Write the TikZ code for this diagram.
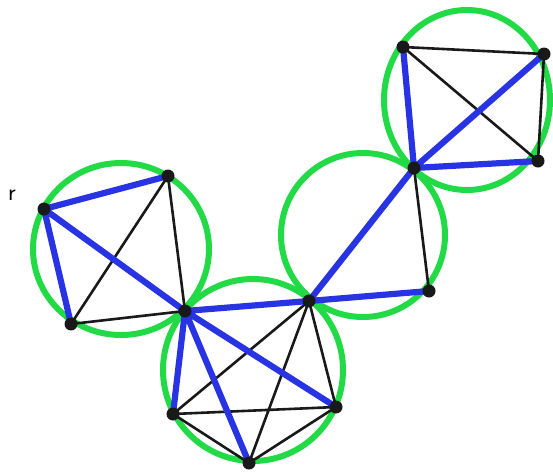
\documentclass[tikz,border=0pt]{standalone}
\usepackage{tikz}
\definecolor{ringgreen}{RGB}{34,218,70}
\definecolor{treeblue}{RGB}{40,52,228}
\tikzset{
  ring/.style={ringgreen,line width=6pt},
  edge/.style={black!90,line width=2.6pt},
  tree/.style={treeblue,line width=6.2pt},
}

\begin{document}
\begin{tikzpicture}[x=1pt,y=-1pt]
  \useasboundingbox (0,0) rectangle (553,472);
  % vertices
  \coordinate (r) at (44,209);
  \coordinate (a) at (168,176);
  \coordinate (b) at (71,324);
  \coordinate (c) at (185,311);
  \coordinate (d) at (309,301);
  \coordinate (e) at (173,414);
  \coordinate (f) at (249,463);
  \coordinate (g) at (336,407);
  \coordinate (h) at (429,291);
  \coordinate (i) at (414,168);
  \coordinate (j) at (403,47);
  \coordinate (k) at (544,54);
  \coordinate (l) at (538,161);
  % blocks
  \draw[ring] (121,249) ellipse (88pt and 86pt);
  \draw[ring] (253,370) ellipse (90pt and 91pt);
  \draw[ring] (363,235) ellipse (82pt and 82pt);
  \draw[ring] (467,100) ellipse (83pt and 90pt);
  % non-tree edges
  \draw[edge] (a) -- (b) (a) -- (c) (b) -- (c);
  \draw[edge] (d) -- (e) (d) -- (f) (d) -- (g) (e) -- (f) (e) -- (g) (f) -- (g);
  \draw[edge] (h) -- (i);
  \draw[edge] (j) -- (k) (j) -- (l) (k) -- (l);
  % tree edges
  \draw[tree] (r) -- (a) (r) -- (b) (r) -- (c);
  \draw[tree] (c) -- (d) (c) -- (e) (c) -- (f) (c) -- (g);
  \draw[tree] (d) -- (i) (d) -- (h);
  \draw[tree] (i) -- (j) (i) -- (k) (i) -- (l);
  \foreach \v in {r,a,b,c,d,e,f,g,h,i,j,k,l}
    \fill[black!90] (\v) circle (6.5pt);
  \node[font=\fontsize{24}{26}\sffamily] (rlabel) at (12,195) {r};
\end{tikzpicture}
\end{document}
